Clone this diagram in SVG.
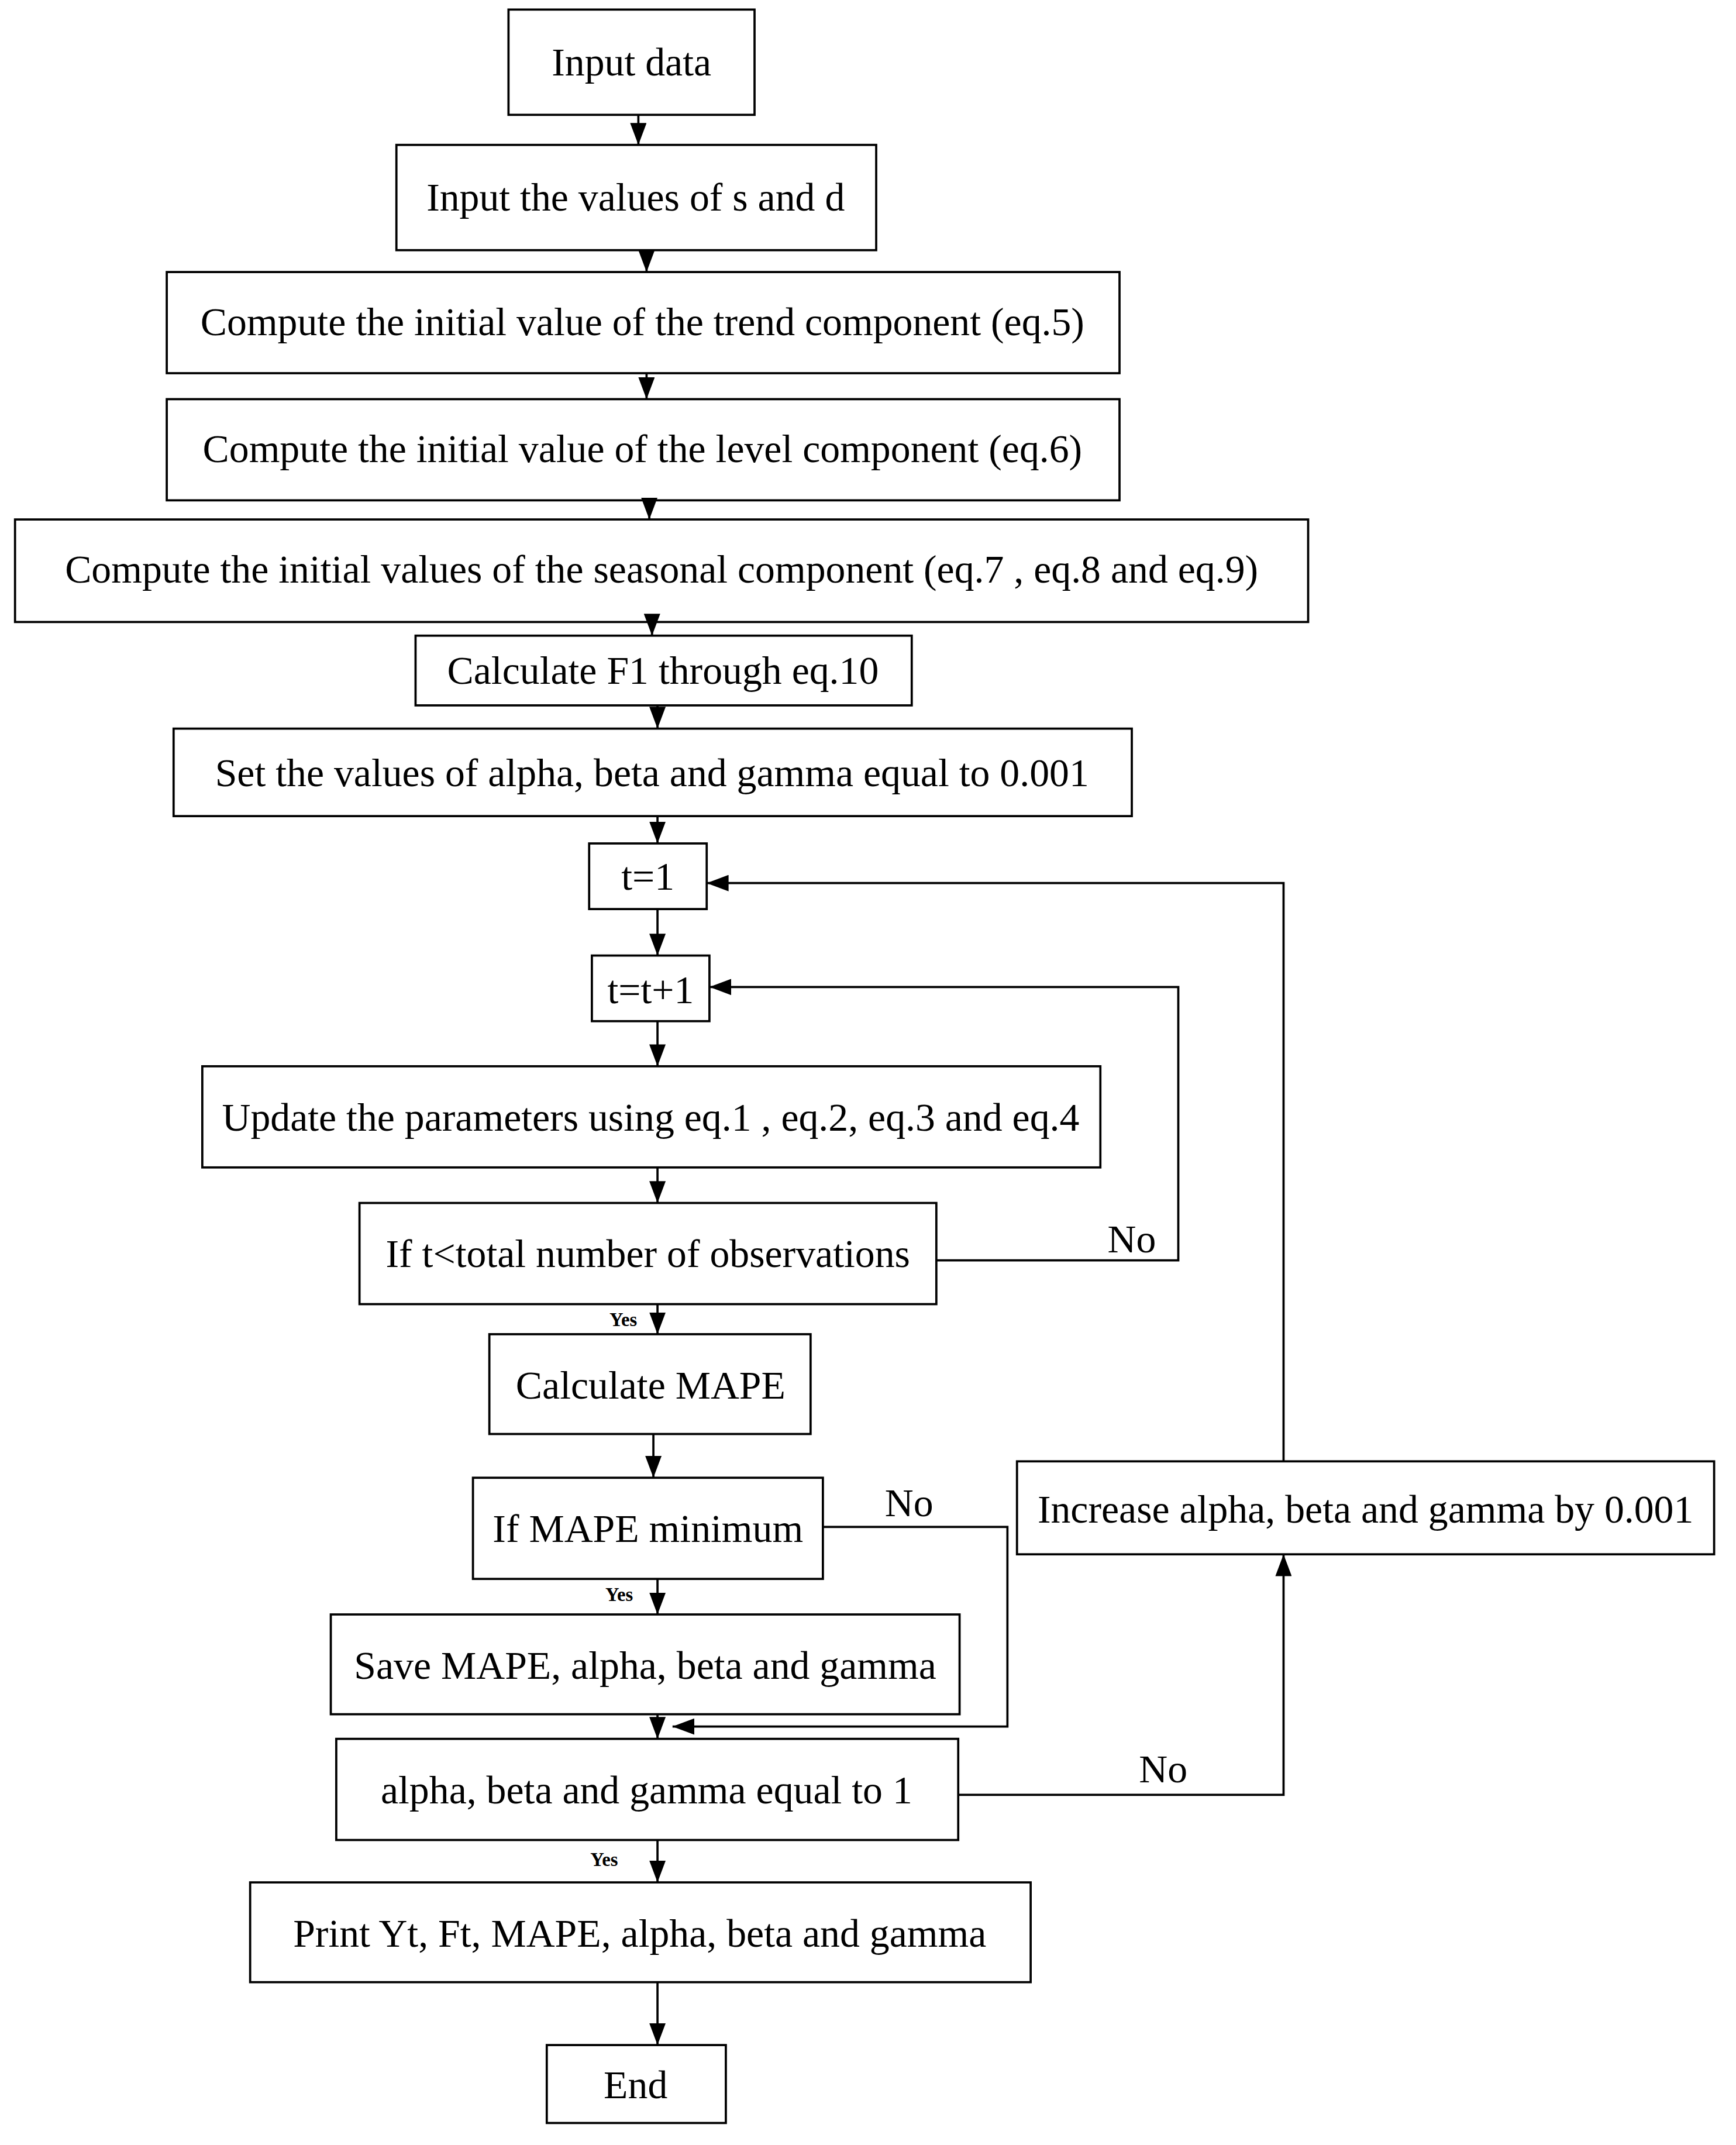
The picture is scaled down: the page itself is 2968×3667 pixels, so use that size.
<svg xmlns="http://www.w3.org/2000/svg" width="2968" height="3667" viewBox="0 0 2968 3667">
<style>
rect{fill:#fff;stroke:#000;stroke-width:1.6}
text{font-family:"Liberation Serif",serif;font-size:29px;text-anchor:middle;fill:#000}
.y{font-size:14px;font-weight:bold}
.l{fill:none;stroke:#000;stroke-width:1.6}
</style>
<defs><marker id="a" markerUnits="userSpaceOnUse" markerWidth="16" markerHeight="12" refX="16" refY="6" orient="auto"><path d="M0,0L16,6L0,12z" fill="#000"/></marker></defs>
<rect x="0" y="0" width="2968" height="3667" style="stroke:none"/>
<g transform="scale(2.337)">
<g id="n1"><rect x="372" y="7" width="180" height="77"/><text x="462" y="55">Input data</text></g>
<g id="n2"><rect x="290" y="106" width="351" height="77"/><text x="465" y="154">Input the values of s and d</text></g>
<g id="n3"><rect x="122" y="199" width="697" height="74"/><text x="470" y="245">Compute the initial value of the trend component (eq.5)</text></g>
<g id="n4"><rect x="122" y="292" width="697" height="74"/><text x="470" y="338">Compute the initial value of the level component (eq.6)</text></g>
<g id="n5"><rect x="11" y="380" width="946" height="75"/><text x="484" y="426">Compute the initial values of the seasonal component (eq.7 , eq.8 and eq.9)</text></g>
<g id="n6"><rect x="304" y="465" width="363" height="51"/><text x="485" y="500">Calculate F1 through eq.10</text></g>
<g id="n7"><rect x="127" y="533" width="701" height="64"/><text x="477" y="575">Set the values of alpha, beta and gamma equal to 0.001</text></g>
<g id="n8"><rect x="431" y="617" width="86" height="48"/><text x="474" y="651">t=1</text></g>
<g id="n9"><rect x="433" y="699" width="86" height="48"/><text x="476" y="734">t=t+1</text></g>
<g id="n10"><rect x="148" y="780" width="657" height="74"/><text x="476" y="827">Update the parameters using eq.1 , eq.2, eq.3 and eq.4</text></g>
<g id="n11"><rect x="263" y="880" width="422" height="74"/><text x="474" y="927">If t&lt;total number of observations</text></g>
<g id="n12"><rect x="358" y="976" width="235" height="73"/><text x="476" y="1023">Calculate MAPE</text></g>
<g id="n13"><rect x="346" y="1081" width="256" height="74"/><text x="474" y="1128">If MAPE minimum</text></g>
<g id="n14"><rect x="744" y="1069" width="510" height="68"/><text x="999" y="1114">Increase alpha, beta and gamma by 0.001</text></g>
<g id="n15"><rect x="242" y="1181" width="460" height="73"/><text x="472" y="1228">Save MAPE, alpha, beta and gamma</text></g>
<g id="n16"><rect x="246" y="1272" width="455" height="74"/><text x="473" y="1319">alpha, beta and gamma equal to 1</text></g>
<g id="n17"><rect x="183" y="1377" width="571" height="73"/><text x="468" y="1424">Print Yt, Ft, MAPE, alpha, beta and gamma</text></g>
<g id="n18"><rect x="400" y="1496" width="131" height="57"/><text x="465" y="1535">End</text></g>
<g id="connectors">
<path class="l" marker-end="url(#a)" d="M467,84V106"/>
<path class="l" marker-end="url(#a)" d="M473,183V199"/>
<path class="l" marker-end="url(#a)" d="M473,273V292"/>
<path class="l" marker-end="url(#a)" d="M475,366V380"/>
<path class="l" marker-end="url(#a)" d="M477,455V465"/>
<path class="l" marker-end="url(#a)" d="M481,516V533"/>
<path class="l" marker-end="url(#a)" d="M481,597V617"/>
<path class="l" marker-end="url(#a)" d="M481,665V699"/>
<path class="l" marker-end="url(#a)" d="M481,747V780"/>
<path class="l" marker-end="url(#a)" d="M481,854V880"/>
<path class="l" marker-end="url(#a)" d="M481,954V976"/>
<path class="l" marker-end="url(#a)" d="M478,1049V1081"/>
<path class="l" marker-end="url(#a)" d="M481,1155V1181"/>
<path class="l" marker-end="url(#a)" d="M481,1254V1272"/>
<path class="l" marker-end="url(#a)" d="M481,1346V1377"/>
<path class="l" marker-end="url(#a)" d="M481,1450V1496"/>
<path class="l" marker-end="url(#a)" d="M685,922H862V722H519"/>
<path class="l" marker-end="url(#a)" d="M939,1069V646H517"/>
<path class="l" marker-end="url(#a)" d="M602,1117H737V1263H492"/>
<path class="l" marker-end="url(#a)" d="M701,1313H939V1137"/>
<text x="828" y="916">No</text>
<text x="665" y="1109">No</text>
<text x="851" y="1304">No</text>
<text class="y" x="456" y="970">Yes</text>
<text class="y" x="453" y="1171">Yes</text>
<text class="y" x="442" y="1365">Yes</text>
</g>
</g>
</svg>
